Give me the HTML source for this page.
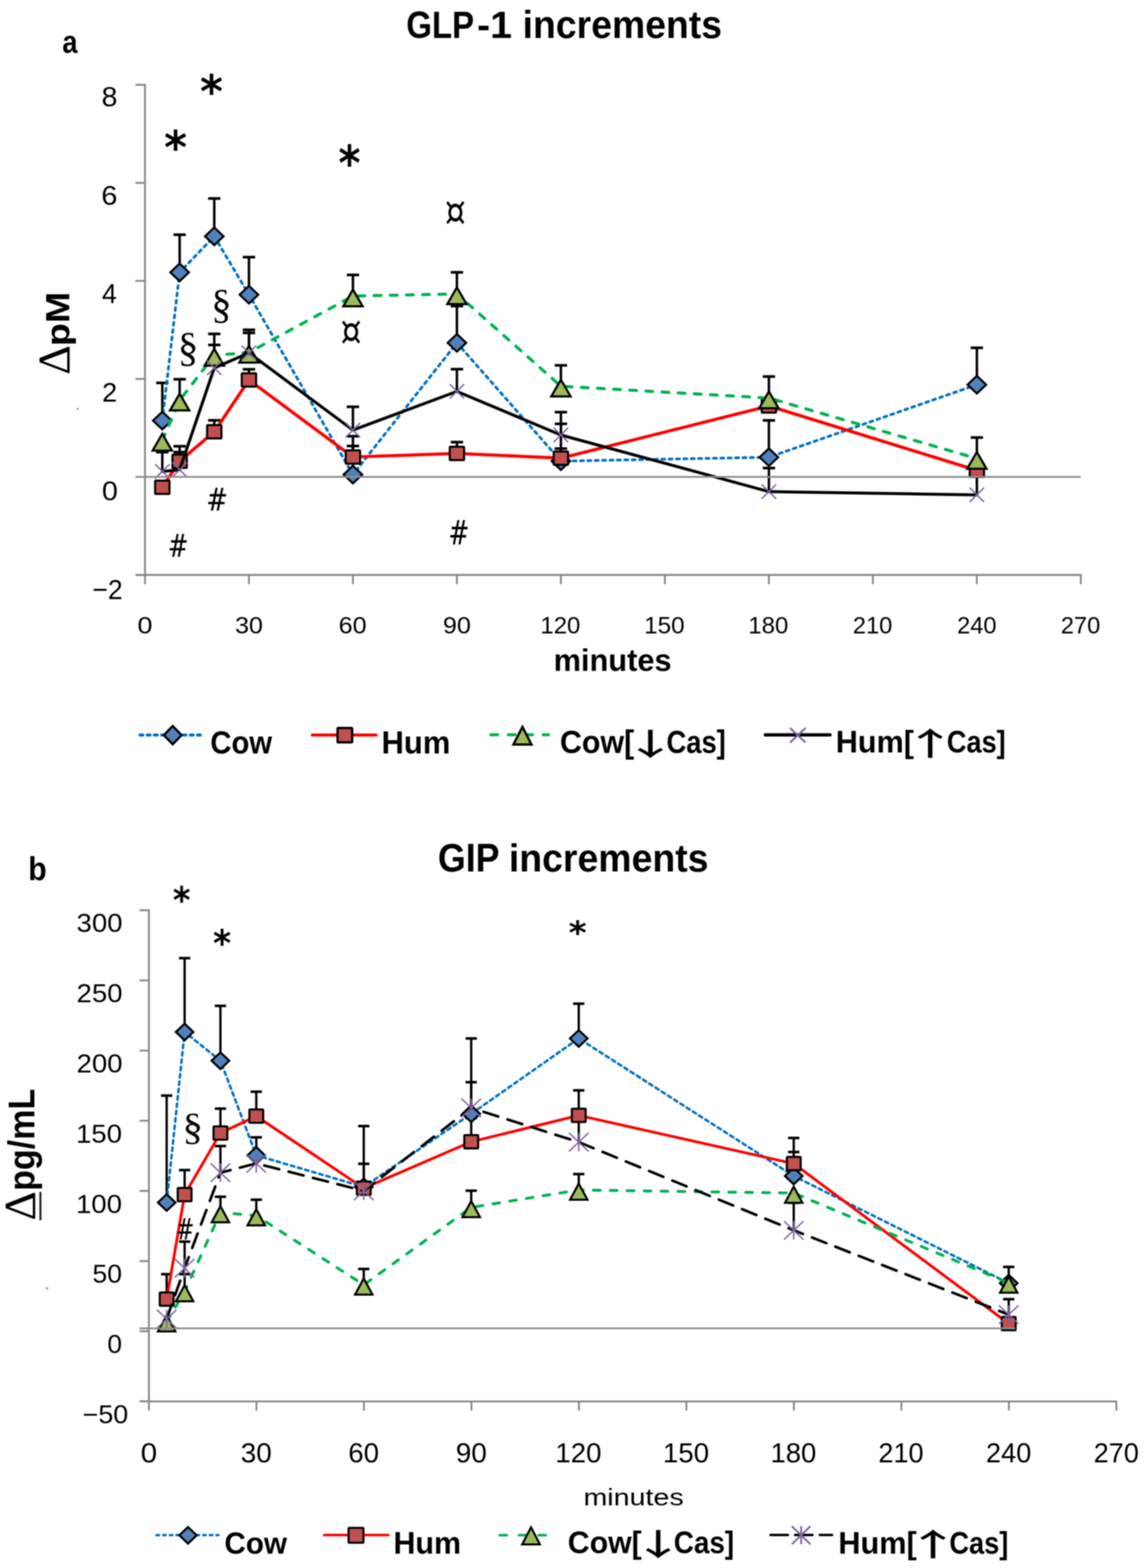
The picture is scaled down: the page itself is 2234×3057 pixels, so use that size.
<!DOCTYPE html><html><head><meta charset="utf-8"><title>GLP-1 and GIP increments</title><style>html,body{margin:0;padding:0;background:#fff;overflow:hidden}svg{display:block}#w{filter:blur(1px)}</style></head><body>
<div id="w">
<svg width="2234" height="3057" viewBox="0 0 2234 3057">
<rect width="2234" height="3057" fill="#fff"/>
<line x1="282.6" y1="163.6" x2="282.6" y2="1139.0" stroke="#868686" stroke-width="3.6" />
<line x1="264.0" y1="165.4" x2="282.6" y2="165.4" stroke="#868686" stroke-width="3.6" />
<line x1="264.0" y1="356.5" x2="282.6" y2="356.5" stroke="#868686" stroke-width="3.6" />
<line x1="264.0" y1="547.6" x2="282.6" y2="547.6" stroke="#868686" stroke-width="3.6" />
<line x1="264.0" y1="738.7" x2="282.6" y2="738.7" stroke="#868686" stroke-width="3.6" />
<line x1="264.0" y1="1120.9" x2="282.6" y2="1120.9" stroke="#868686" stroke-width="3.6" />
<line x1="264.0" y1="1120.9" x2="2108.6" y2="1120.9" stroke="#868686" stroke-width="3.6" />
<line x1="485.3" y1="1120.9" x2="485.3" y2="1139.0" stroke="#868686" stroke-width="3.6" />
<line x1="688.0" y1="1120.9" x2="688.0" y2="1139.0" stroke="#868686" stroke-width="3.6" />
<line x1="890.7" y1="1120.9" x2="890.7" y2="1139.0" stroke="#868686" stroke-width="3.6" />
<line x1="1093.4" y1="1120.9" x2="1093.4" y2="1139.0" stroke="#868686" stroke-width="3.6" />
<line x1="1296.1" y1="1120.9" x2="1296.1" y2="1139.0" stroke="#868686" stroke-width="3.6" />
<line x1="1498.8" y1="1120.9" x2="1498.8" y2="1139.0" stroke="#868686" stroke-width="3.6" />
<line x1="1701.5" y1="1120.9" x2="1701.5" y2="1139.0" stroke="#868686" stroke-width="3.6" />
<line x1="1904.2" y1="1120.9" x2="1904.2" y2="1139.0" stroke="#868686" stroke-width="3.6" />
<line x1="2106.9" y1="1120.9" x2="2106.9" y2="1139.0" stroke="#868686" stroke-width="3.6" />
<line x1="316.4" y1="820.0" x2="316.4" y2="746.5" stroke="#000" stroke-width="4.8" />
<line x1="304.4" y1="746.5" x2="328.4" y2="746.5" stroke="#000" stroke-width="5.2" />
<line x1="350.2" y1="531.0" x2="350.2" y2="457.6" stroke="#000" stroke-width="4.8" />
<line x1="338.2" y1="457.6" x2="362.2" y2="457.6" stroke="#000" stroke-width="5.2" />
<line x1="417.7" y1="460.7" x2="417.7" y2="387.0" stroke="#000" stroke-width="4.8" />
<line x1="405.7" y1="387.0" x2="429.7" y2="387.0" stroke="#000" stroke-width="5.2" />
<line x1="485.3" y1="574.6" x2="485.3" y2="501.3" stroke="#000" stroke-width="4.8" />
<line x1="473.3" y1="501.3" x2="497.3" y2="501.3" stroke="#000" stroke-width="5.2" />
<line x1="688.0" y1="925.3" x2="688.0" y2="850.4" stroke="#000" stroke-width="4.8" />
<line x1="676.0" y1="850.4" x2="700.0" y2="850.4" stroke="#000" stroke-width="5.2" />
<line x1="890.7" y1="668.4" x2="890.7" y2="596.7" stroke="#000" stroke-width="4.8" />
<line x1="878.7" y1="596.7" x2="902.7" y2="596.7" stroke="#000" stroke-width="5.2" />
<line x1="1093.4" y1="899.0" x2="1093.4" y2="826.3" stroke="#000" stroke-width="4.8" />
<line x1="1081.4" y1="826.3" x2="1105.4" y2="826.3" stroke="#000" stroke-width="5.2" />
<line x1="1498.9" y1="891.4" x2="1498.9" y2="819.6" stroke="#000" stroke-width="4.8" />
<line x1="1486.9" y1="819.6" x2="1510.9" y2="819.6" stroke="#000" stroke-width="5.2" />
<line x1="1904.3" y1="750.0" x2="1904.3" y2="678.1" stroke="#000" stroke-width="4.8" />
<line x1="1892.3" y1="678.1" x2="1916.3" y2="678.1" stroke="#000" stroke-width="5.2" />
<line x1="350.2" y1="899.2" x2="350.2" y2="870.0" stroke="#000" stroke-width="4.8" />
<line x1="338.2" y1="870.0" x2="362.2" y2="870.0" stroke="#000" stroke-width="5.2" />
<line x1="417.7" y1="841.7" x2="417.7" y2="819.5" stroke="#000" stroke-width="4.8" />
<line x1="405.7" y1="819.5" x2="429.7" y2="819.5" stroke="#000" stroke-width="5.2" />
<line x1="485.3" y1="740.8" x2="485.3" y2="720.0" stroke="#000" stroke-width="4.8" />
<line x1="473.3" y1="720.0" x2="497.3" y2="720.0" stroke="#000" stroke-width="5.2" />
<line x1="688.0" y1="891.0" x2="688.0" y2="869.5" stroke="#000" stroke-width="4.8" />
<line x1="676.0" y1="869.5" x2="700.0" y2="869.5" stroke="#000" stroke-width="5.2" />
<line x1="890.7" y1="884.0" x2="890.7" y2="862.0" stroke="#000" stroke-width="4.8" />
<line x1="878.7" y1="862.0" x2="902.7" y2="862.0" stroke="#000" stroke-width="5.2" />
<line x1="1093.4" y1="893.2" x2="1093.4" y2="874.6" stroke="#000" stroke-width="4.8" />
<line x1="1081.4" y1="874.6" x2="1105.4" y2="874.6" stroke="#000" stroke-width="5.2" />
<line x1="350.2" y1="780.3" x2="350.2" y2="739.4" stroke="#000" stroke-width="4.8" />
<line x1="338.2" y1="739.4" x2="362.2" y2="739.4" stroke="#000" stroke-width="5.2" />
<line x1="417.7" y1="693.0" x2="417.7" y2="651.0" stroke="#000" stroke-width="4.8" />
<line x1="405.7" y1="651.0" x2="429.7" y2="651.0" stroke="#000" stroke-width="5.2" />
<line x1="485.3" y1="687.1" x2="485.3" y2="643.0" stroke="#000" stroke-width="4.8" />
<line x1="473.3" y1="643.0" x2="497.3" y2="643.0" stroke="#000" stroke-width="5.2" />
<line x1="688.0" y1="577.2" x2="688.0" y2="536.0" stroke="#000" stroke-width="4.8" />
<line x1="676.0" y1="536.0" x2="700.0" y2="536.0" stroke="#000" stroke-width="5.2" />
<line x1="890.7" y1="573.0" x2="890.7" y2="530.9" stroke="#000" stroke-width="4.8" />
<line x1="878.7" y1="530.9" x2="902.7" y2="530.9" stroke="#000" stroke-width="5.2" />
<line x1="1093.4" y1="753.0" x2="1093.4" y2="712.3" stroke="#000" stroke-width="4.8" />
<line x1="1081.4" y1="712.3" x2="1105.4" y2="712.3" stroke="#000" stroke-width="5.2" />
<line x1="1498.9" y1="776.0" x2="1498.9" y2="734.1" stroke="#000" stroke-width="4.8" />
<line x1="1486.9" y1="734.1" x2="1510.9" y2="734.1" stroke="#000" stroke-width="5.2" />
<line x1="1904.3" y1="894.0" x2="1904.3" y2="853.0" stroke="#000" stroke-width="4.8" />
<line x1="1892.3" y1="853.0" x2="1916.3" y2="853.0" stroke="#000" stroke-width="5.2" />
<line x1="316.4" y1="919.1" x2="316.4" y2="881.5" stroke="#000" stroke-width="4.8" />
<line x1="304.4" y1="881.5" x2="328.4" y2="881.5" stroke="#000" stroke-width="5.2" />
<line x1="350.2" y1="915.8" x2="350.2" y2="881.5" stroke="#000" stroke-width="4.8" />
<line x1="338.2" y1="881.5" x2="362.2" y2="881.5" stroke="#000" stroke-width="5.2" />
<line x1="417.7" y1="717.3" x2="417.7" y2="672.5" stroke="#000" stroke-width="4.8" />
<line x1="405.7" y1="672.5" x2="429.7" y2="672.5" stroke="#000" stroke-width="5.2" />
<line x1="485.3" y1="688.0" x2="485.3" y2="649.0" stroke="#000" stroke-width="4.8" />
<line x1="473.3" y1="649.0" x2="497.3" y2="649.0" stroke="#000" stroke-width="5.2" />
<line x1="688.0" y1="838.5" x2="688.0" y2="793.1" stroke="#000" stroke-width="4.8" />
<line x1="676.0" y1="793.1" x2="700.0" y2="793.1" stroke="#000" stroke-width="5.2" />
<line x1="890.7" y1="763.1" x2="890.7" y2="719.7" stroke="#000" stroke-width="4.8" />
<line x1="878.7" y1="719.7" x2="902.7" y2="719.7" stroke="#000" stroke-width="5.2" />
<line x1="1093.4" y1="848.1" x2="1093.4" y2="803.5" stroke="#000" stroke-width="4.8" />
<line x1="1081.4" y1="803.5" x2="1105.4" y2="803.5" stroke="#000" stroke-width="5.2" />
<line x1="1498.9" y1="958.5" x2="1498.9" y2="912.5" stroke="#000" stroke-width="4.8" />
<line x1="1486.9" y1="912.5" x2="1510.9" y2="912.5" stroke="#000" stroke-width="5.2" />
<line x1="1904.3" y1="964.8" x2="1904.3" y2="917.0" stroke="#000" stroke-width="4.8" />
<line x1="1892.3" y1="917.0" x2="1916.3" y2="917.0" stroke="#000" stroke-width="5.2" />
<polyline points="316.4,820.0 350.2,531.0 417.7,460.7 485.3,574.6 688.0,925.3 890.7,668.4 1093.4,899.0 1498.9,891.4 1904.3,750.0" fill="none" stroke="#0070C0" stroke-width="5.3" stroke-linecap="round" stroke-linejoin="round" stroke-dasharray="5.8 8.6"/>
<path d="M316.4 802.8L334.6 820.0L316.4 837.2L298.2 820.0Z" fill="#4F81BD" stroke="#000" stroke-width="4" stroke-linejoin="miter"/>
<path d="M350.2 513.8L368.3 531.0L350.2 548.2L332.0 531.0Z" fill="#4F81BD" stroke="#000" stroke-width="4" stroke-linejoin="miter"/>
<path d="M417.7 443.5L435.9 460.7L417.7 477.9L399.6 460.7Z" fill="#4F81BD" stroke="#000" stroke-width="4" stroke-linejoin="miter"/>
<path d="M485.3 557.4L503.5 574.6L485.3 591.8L467.1 574.6Z" fill="#4F81BD" stroke="#000" stroke-width="4" stroke-linejoin="miter"/>
<path d="M688.0 908.1L706.2 925.3L688.0 942.5L669.8 925.3Z" fill="#4F81BD" stroke="#000" stroke-width="4" stroke-linejoin="miter"/>
<path d="M890.7 651.2L908.9 668.4L890.7 685.6L872.6 668.4Z" fill="#4F81BD" stroke="#000" stroke-width="4" stroke-linejoin="miter"/>
<path d="M1093.4 881.8L1111.6 899.0L1093.4 916.2L1075.3 899.0Z" fill="#4F81BD" stroke="#000" stroke-width="4" stroke-linejoin="miter"/>
<path d="M1498.9 874.2L1517.0 891.4L1498.9 908.6L1480.7 891.4Z" fill="#4F81BD" stroke="#000" stroke-width="4" stroke-linejoin="miter"/>
<path d="M1904.3 732.8L1922.5 750.0L1904.3 767.2L1886.1 750.0Z" fill="#4F81BD" stroke="#000" stroke-width="4" stroke-linejoin="miter"/>
<polyline points="316.4,950.0 350.2,899.2 417.7,841.7 485.3,740.8 688.0,891.0 890.7,884.0 1093.4,893.2 1498.9,791.5 1904.3,917.0" fill="none" stroke="#FF0000" stroke-width="6.2" stroke-linecap="round" stroke-linejoin="round"/>
<rect x="302.4" y="937.0" width="28.0" height="26.0" rx="1.5" fill="#C0504D" stroke="#000" stroke-width="4"/>
<rect x="336.2" y="886.2" width="28.0" height="26.0" rx="1.5" fill="#C0504D" stroke="#000" stroke-width="4"/>
<rect x="403.7" y="828.7" width="28.0" height="26.0" rx="1.5" fill="#C0504D" stroke="#000" stroke-width="4"/>
<rect x="471.3" y="727.8" width="28.0" height="26.0" rx="1.5" fill="#C0504D" stroke="#000" stroke-width="4"/>
<rect x="674.0" y="878.0" width="28.0" height="26.0" rx="1.5" fill="#C0504D" stroke="#000" stroke-width="4"/>
<rect x="876.7" y="871.0" width="28.0" height="26.0" rx="1.5" fill="#C0504D" stroke="#000" stroke-width="4"/>
<rect x="1079.4" y="880.2" width="28.0" height="26.0" rx="1.5" fill="#C0504D" stroke="#000" stroke-width="4"/>
<rect x="1484.9" y="778.5" width="28.0" height="26.0" rx="1.5" fill="#C0504D" stroke="#000" stroke-width="4"/>
<rect x="1890.3" y="904.0" width="28.0" height="26.0" rx="1.5" fill="#C0504D" stroke="#000" stroke-width="4"/>
<polyline points="316.4,858.6 350.2,780.3 417.7,693.0 485.3,687.1 688.0,577.2 890.7,573.0 1093.4,753.0 1498.9,776.0 1904.3,894.0" fill="none" stroke="#00B050" stroke-width="6" stroke-linecap="round" stroke-linejoin="round" stroke-dasharray="13 18.5"/>
<path d="M316.4 845.8L335.2 878.5L297.5 878.5Z" fill="#9BBB59" stroke="#000" stroke-width="4.2" stroke-linejoin="miter"/>
<path d="M350.2 767.5L369.0 800.2L331.3 800.2Z" fill="#9BBB59" stroke="#000" stroke-width="4.2" stroke-linejoin="miter"/>
<path d="M417.7 680.2L436.6 712.9L398.9 712.9Z" fill="#9BBB59" stroke="#000" stroke-width="4.2" stroke-linejoin="miter"/>
<path d="M485.3 674.3L504.2 707.0L466.5 707.0Z" fill="#9BBB59" stroke="#000" stroke-width="4.2" stroke-linejoin="miter"/>
<path d="M688.0 564.4L706.9 597.1L669.2 597.1Z" fill="#9BBB59" stroke="#000" stroke-width="4.2" stroke-linejoin="miter"/>
<path d="M890.7 560.2L909.6 592.9L871.9 592.9Z" fill="#9BBB59" stroke="#000" stroke-width="4.2" stroke-linejoin="miter"/>
<path d="M1093.4 740.2L1112.3 772.9L1074.6 772.9Z" fill="#9BBB59" stroke="#000" stroke-width="4.2" stroke-linejoin="miter"/>
<path d="M1498.9 763.2L1517.7 795.9L1480.0 795.9Z" fill="#9BBB59" stroke="#000" stroke-width="4.2" stroke-linejoin="miter"/>
<path d="M1904.3 881.2L1923.1 913.9L1885.4 913.9Z" fill="#9BBB59" stroke="#000" stroke-width="4.2" stroke-linejoin="miter"/>
<polyline points="316.4,919.1 350.2,915.8 417.7,717.3 485.3,688.0 688.0,838.5 890.7,763.1 1093.4,848.1 1498.9,958.5 1904.3,964.8" fill="none" stroke="#000" stroke-width="5.8" stroke-linecap="round" stroke-linejoin="round"/>
<path d="M302.4 905.1L330.4 933.1M330.4 905.1L302.4 933.1" fill="none" stroke="#8064A2" stroke-width="2.8" stroke-linecap="butt"/>
<path d="M336.2 901.8L364.2 929.8M364.2 901.8L336.2 929.8" fill="none" stroke="#8064A2" stroke-width="2.8" stroke-linecap="butt"/>
<path d="M403.7 703.3L431.8 731.3M431.8 703.3L403.7 731.3" fill="none" stroke="#8064A2" stroke-width="2.8" stroke-linecap="butt"/>
<path d="M471.3 674.0L499.3 702.0M499.3 674.0L471.3 702.0" fill="none" stroke="#8064A2" stroke-width="2.8" stroke-linecap="butt"/>
<path d="M674.0 824.5L702.0 852.5M702.0 824.5L674.0 852.5" fill="none" stroke="#8064A2" stroke-width="2.8" stroke-linecap="butt"/>
<path d="M876.7 749.1L904.8 777.1M904.8 749.1L876.7 777.1" fill="none" stroke="#8064A2" stroke-width="2.8" stroke-linecap="butt"/>
<path d="M1079.4 834.1L1107.5 862.1M1107.5 834.1L1079.4 862.1" fill="none" stroke="#8064A2" stroke-width="2.8" stroke-linecap="butt"/>
<path d="M1484.8 944.5L1512.9 972.5M1512.9 944.5L1484.8 972.5" fill="none" stroke="#8064A2" stroke-width="2.8" stroke-linecap="butt"/>
<path d="M1890.3 950.8L1918.3 978.8M1918.3 950.8L1890.3 978.8" fill="none" stroke="#8064A2" stroke-width="2.8" stroke-linecap="butt"/>
<line x1="264.0" y1="929.8" x2="2106.8" y2="929.8" stroke="#8c8c8c" stroke-width="3.6" />
<polyline points="273.0,1433.0 397.0,1433.0" fill="none" stroke="#0070C0" stroke-width="5.8" stroke-linecap="round" stroke-linejoin="round" stroke-dasharray="5.5 8.5"/>
<path d="M336.7 1415.5L354.0 1433.3L336.7 1451.1L319.4 1433.3Z" fill="#4F81BD" stroke="#000" stroke-width="4.5" stroke-linejoin="miter"/>
<polyline points="609.0,1433.0 733.0,1433.0" fill="none" stroke="#FF0000" stroke-width="6.2" stroke-linecap="round" stroke-linejoin="round"/>
<rect x="658.0" y="1419.2" width="28.5" height="28.0" rx="1.5" fill="#C0504D" stroke="#000" stroke-width="4.5"/>
<polyline points="957.0,1432.5 1069.0,1432.5" fill="none" stroke="#00B050" stroke-width="6" stroke-linecap="round" stroke-linejoin="round" stroke-dasharray="13 21"/>
<path d="M1018.5 1417.2L1036.1 1451.5L1000.9 1451.5Z" fill="#9BBB59" stroke="#000" stroke-width="4.5" stroke-linejoin="miter"/>
<polyline points="1492.0,1432.8 1618.0,1432.8" fill="none" stroke="#000" stroke-width="6.5" stroke-linecap="round" stroke-linejoin="round"/>
<path d="M1540.1 1419.4L1570.3 1447.6M1570.3 1419.4L1540.1 1447.6" fill="none" stroke="#8064A2" stroke-width="4" stroke-linecap="butt"/>
<text x="792.0" y="74.4" font-family='"Liberation Sans", Arial, sans-serif' font-size="74.90" font-weight="bold" text-anchor="start" textLength="132.3" lengthAdjust="spacingAndGlyphs">GLP</text>
<text x="930.0" y="74.0" font-family='"Liberation Sans", Arial, sans-serif' font-size="74.95" font-weight="bold" text-anchor="start" textLength="68.1" lengthAdjust="spacingAndGlyphs">-1</text>
<text x="1018.8" y="74.4" font-family='"Liberation Sans", Arial, sans-serif' font-size="75.64" font-weight="bold" text-anchor="start" textLength="388.7" lengthAdjust="spacingAndGlyphs">increments</text>
<text x="121.6" y="102.6" font-family='"Liberation Sans", Arial, sans-serif' font-size="63.03" font-weight="bold" text-anchor="start" textLength="29.6" lengthAdjust="spacingAndGlyphs">a</text>
<text x="228.8" y="207.4" font-family='"Liberation Sans", Arial, sans-serif' font-size="54.42" text-anchor="end" textLength="30.9" lengthAdjust="spacingAndGlyphs">8</text>
<text x="228.8" y="399.0" font-family='"Liberation Sans", Arial, sans-serif' font-size="51.64" text-anchor="end" textLength="31.4" lengthAdjust="spacingAndGlyphs">6</text>
<text x="227.8" y="591.2" font-family='"Liberation Sans", Arial, sans-serif' font-size="54.45" text-anchor="end" textLength="29.1" lengthAdjust="spacingAndGlyphs">4</text>
<text x="228.6" y="783.4" font-family='"Liberation Sans", Arial, sans-serif' font-size="51.66" text-anchor="end" textLength="29.5" lengthAdjust="spacingAndGlyphs">2</text>
<text x="229.8" y="974.6" font-family='"Liberation Sans", Arial, sans-serif' font-size="51.66" text-anchor="end" textLength="31.0" lengthAdjust="spacingAndGlyphs">0</text>
<text x="239.2" y="1167.8" font-family='"Liberation Sans", Arial, sans-serif' font-size="54.41" text-anchor="end" textLength="59.2" lengthAdjust="spacingAndGlyphs">−2</text>
<text x="282.6" y="1235.2" font-family='"Liberation Sans", Arial, sans-serif' font-size="46.87" text-anchor="middle" textLength="29.2" lengthAdjust="spacingAndGlyphs">0</text>
<text x="485.3" y="1235.2" font-family='"Liberation Sans", Arial, sans-serif' font-size="46.87" text-anchor="middle" textLength="54.3" lengthAdjust="spacingAndGlyphs">30</text>
<text x="687.5" y="1235.2" font-family='"Liberation Sans", Arial, sans-serif' font-size="46.87" text-anchor="middle" textLength="54.3" lengthAdjust="spacingAndGlyphs">60</text>
<text x="890.7" y="1235.2" font-family='"Liberation Sans", Arial, sans-serif' font-size="46.87" text-anchor="middle" textLength="54.3" lengthAdjust="spacingAndGlyphs">90</text>
<text x="1092.4" y="1235.2" font-family='"Liberation Sans", Arial, sans-serif' font-size="46.87" text-anchor="middle" textLength="77.9" lengthAdjust="spacingAndGlyphs">120</text>
<text x="1295.1" y="1235.2" font-family='"Liberation Sans", Arial, sans-serif' font-size="46.87" text-anchor="middle" textLength="78.9" lengthAdjust="spacingAndGlyphs">150</text>
<text x="1497.8" y="1235.2" font-family='"Liberation Sans", Arial, sans-serif' font-size="46.87" text-anchor="middle" textLength="77.9" lengthAdjust="spacingAndGlyphs">180</text>
<text x="1701.0" y="1235.2" font-family='"Liberation Sans", Arial, sans-serif' font-size="46.87" text-anchor="middle" textLength="76.9" lengthAdjust="spacingAndGlyphs">210</text>
<text x="1904.2" y="1235.2" font-family='"Liberation Sans", Arial, sans-serif' font-size="46.87" text-anchor="middle" textLength="76.9" lengthAdjust="spacingAndGlyphs">240</text>
<text x="2106.4" y="1235.2" font-family='"Liberation Sans", Arial, sans-serif' font-size="46.87" text-anchor="middle" textLength="76.9" lengthAdjust="spacingAndGlyphs">270</text>
<text x="1079.2" y="1308.2" font-family='"Liberation Sans", Arial, sans-serif' font-size="60.63" font-weight="bold" text-anchor="start" textLength="230.0" lengthAdjust="spacingAndGlyphs">minutes</text>
<text x="135.2" y="730.8" font-family='"Liberation Serif", "Times New Roman", serif' font-size="89.07" text-anchor="start" textLength="57.9" lengthAdjust="spacingAndGlyphs" transform="rotate(-90 135.2 730.8)">Δ</text>
<text x="134.7" y="674.8" font-family='"Liberation Sans", Arial, sans-serif' font-size="65.64" font-weight="bold" text-anchor="start" textLength="105.9" lengthAdjust="spacingAndGlyphs" transform="rotate(-90 134.7 674.8)">pM</text>
<text x="410.0" y="1469.0" font-family='"Liberation Sans", Arial, sans-serif' font-size="62.67" font-weight="bold" text-anchor="start" textLength="120.5" lengthAdjust="spacingAndGlyphs">Cow</text>
<text x="743.8" y="1469.0" font-family='"Liberation Sans", Arial, sans-serif' font-size="62.64" font-weight="bold" text-anchor="start" textLength="134.1" lengthAdjust="spacingAndGlyphs">Hum</text>
<text x="1091.4" y="1468.0" font-family='"Liberation Sans", Arial, sans-serif' font-size="62.04" font-weight="bold" text-anchor="start" textLength="145.0" lengthAdjust="spacingAndGlyphs">Cow[</text>
<text transform="translate(1215.2 1473.1) scale(1.757 1)" font-family='"Noto Sans CJK JP", sans-serif' font-size="59.89" font-weight="500">↓</text>
<text x="1299.2" y="1468.0" font-family='"Liberation Sans", Arial, sans-serif' font-size="62.04" font-weight="bold" text-anchor="start" textLength="115.7" lengthAdjust="spacingAndGlyphs">Cas]</text>
<text x="1629.2" y="1467.1" font-family='"Liberation Sans", Arial, sans-serif' font-size="61.49" font-weight="bold" text-anchor="start" textLength="152.3" lengthAdjust="spacingAndGlyphs">Hum[</text>
<text transform="translate(1761.5 1472.8) scale(1.668 1)" font-family='"Noto Sans CJK JP", sans-serif' font-size="62.17" font-weight="500">↑</text>
<text x="1845.8" y="1467.1" font-family='"Liberation Sans", Arial, sans-serif' font-size="61.49" font-weight="bold" text-anchor="start" textLength="114.7" lengthAdjust="spacingAndGlyphs">Cas]</text>
<text x="320.0" y="319.2" font-family='"DejaVu Sans", sans-serif' font-size="88.95" font-weight="bold" text-anchor="start" textLength="44.5" lengthAdjust="spacingAndGlyphs">*</text>
<text x="390.0" y="210.2" font-family='"DejaVu Sans", sans-serif' font-size="88.95" font-weight="bold" text-anchor="start" textLength="44.5" lengthAdjust="spacingAndGlyphs">*</text>
<text x="659.8" y="351.3" font-family='"DejaVu Sans", sans-serif' font-size="94.32" font-weight="bold" text-anchor="start" textLength="43.0" lengthAdjust="spacingAndGlyphs">*</text>
<text x="346.4" y="703.8" font-family='"Liberation Serif", "Times New Roman", serif' font-size="79.38" text-anchor="start" textLength="40.3" lengthAdjust="spacingAndGlyphs">§</text>
<text x="411.8" y="620.2" font-family='"Liberation Serif", "Times New Roman", serif' font-size="79.42" text-anchor="start" textLength="39.7" lengthAdjust="spacingAndGlyphs">§</text>
<text x="663.4" y="674.0" font-family='"DejaVu Serif", serif' font-size="83.70" text-anchor="start" textLength="41.8" lengthAdjust="spacingAndGlyphs">¤</text>
<text x="866.8" y="441.1" font-family='"DejaVu Serif", serif' font-size="84.68" text-anchor="start" textLength="41.7" lengthAdjust="spacingAndGlyphs">¤</text>
<text x="402.0" y="995.5" font-family='"DejaVu Serif", serif' font-size="61.92" text-anchor="start" textLength="42.6" lengthAdjust="spacingAndGlyphs">#</text>
<text x="327.0" y="1086.3" font-family='"DejaVu Serif", serif' font-size="61.92" text-anchor="start" textLength="40.7" lengthAdjust="spacingAndGlyphs">#</text>
<text x="874.0" y="1061.4" font-family='"DejaVu Serif", serif' font-size="64.67" text-anchor="start" textLength="41.2" lengthAdjust="spacingAndGlyphs">#</text>
<line x1="290.3" y1="1772.8" x2="290.3" y2="2750.0" stroke="#868686" stroke-width="3.6" />
<line x1="272.0" y1="2732.2" x2="290.3" y2="2732.2" stroke="#868686" stroke-width="3.6" />
<line x1="272.0" y1="2595.4" x2="290.3" y2="2595.4" stroke="#868686" stroke-width="3.6" />
<line x1="272.0" y1="2458.6" x2="290.3" y2="2458.6" stroke="#868686" stroke-width="3.6" />
<line x1="272.0" y1="2321.8" x2="290.3" y2="2321.8" stroke="#868686" stroke-width="3.6" />
<line x1="272.0" y1="2185.0" x2="290.3" y2="2185.0" stroke="#868686" stroke-width="3.6" />
<line x1="272.0" y1="2048.2" x2="290.3" y2="2048.2" stroke="#868686" stroke-width="3.6" />
<line x1="272.0" y1="1911.4" x2="290.3" y2="1911.4" stroke="#868686" stroke-width="3.6" />
<line x1="272.0" y1="1774.6" x2="290.3" y2="1774.6" stroke="#868686" stroke-width="3.6" />
<line x1="272.0" y1="2732.2" x2="2177.8" y2="2732.2" stroke="#868686" stroke-width="3.6" />
<line x1="499.9" y1="2732.2" x2="499.9" y2="2750.0" stroke="#868686" stroke-width="3.6" />
<line x1="709.4" y1="2732.2" x2="709.4" y2="2750.0" stroke="#868686" stroke-width="3.6" />
<line x1="919.0" y1="2732.2" x2="919.0" y2="2750.0" stroke="#868686" stroke-width="3.6" />
<line x1="1128.5" y1="2732.2" x2="1128.5" y2="2750.0" stroke="#868686" stroke-width="3.6" />
<line x1="1338.0" y1="2732.2" x2="1338.0" y2="2750.0" stroke="#868686" stroke-width="3.6" />
<line x1="1547.6" y1="2732.2" x2="1547.6" y2="2750.0" stroke="#868686" stroke-width="3.6" />
<line x1="1757.2" y1="2732.2" x2="1757.2" y2="2750.0" stroke="#868686" stroke-width="3.6" />
<line x1="1966.7" y1="2732.2" x2="1966.7" y2="2750.0" stroke="#868686" stroke-width="3.6" />
<line x1="2176.2" y1="2732.2" x2="2176.2" y2="2750.0" stroke="#868686" stroke-width="3.6" />
<line x1="324.9" y1="2344.4" x2="324.9" y2="2136.0" stroke="#000" stroke-width="4.5" />
<line x1="313.9" y1="2136.0" x2="335.9" y2="2136.0" stroke="#000" stroke-width="5" />
<line x1="359.9" y1="2012.0" x2="359.9" y2="1868.0" stroke="#000" stroke-width="4.5" />
<line x1="348.9" y1="1868.0" x2="370.9" y2="1868.0" stroke="#000" stroke-width="5" />
<line x1="429.7" y1="2068.0" x2="429.7" y2="1961.0" stroke="#000" stroke-width="4.5" />
<line x1="418.7" y1="1961.0" x2="440.7" y2="1961.0" stroke="#000" stroke-width="5" />
<line x1="499.6" y1="2252.5" x2="499.6" y2="2217.4" stroke="#000" stroke-width="4.5" />
<line x1="488.6" y1="2217.4" x2="510.6" y2="2217.4" stroke="#000" stroke-width="5" />
<line x1="709.1" y1="2314.0" x2="709.1" y2="2195.4" stroke="#000" stroke-width="4.5" />
<line x1="698.1" y1="2195.4" x2="720.1" y2="2195.4" stroke="#000" stroke-width="5" />
<line x1="918.6" y1="2171.5" x2="918.6" y2="2024.6" stroke="#000" stroke-width="4.5" />
<line x1="907.6" y1="2024.6" x2="929.6" y2="2024.6" stroke="#000" stroke-width="5" />
<line x1="1128.2" y1="2024.6" x2="1128.2" y2="1956.8" stroke="#000" stroke-width="4.5" />
<line x1="1117.2" y1="1956.8" x2="1139.2" y2="1956.8" stroke="#000" stroke-width="5" />
<line x1="1547.3" y1="2292.8" x2="1547.3" y2="2246.0" stroke="#000" stroke-width="4.5" />
<line x1="1536.3" y1="2246.0" x2="1558.3" y2="2246.0" stroke="#000" stroke-width="5" />
<line x1="324.9" y1="2532.8" x2="324.9" y2="2484.2" stroke="#000" stroke-width="4.5" />
<line x1="313.9" y1="2484.2" x2="335.9" y2="2484.2" stroke="#000" stroke-width="5" />
<line x1="359.9" y1="2329.0" x2="359.9" y2="2281.2" stroke="#000" stroke-width="4.5" />
<line x1="348.9" y1="2281.2" x2="370.9" y2="2281.2" stroke="#000" stroke-width="5" />
<line x1="429.7" y1="2209.0" x2="429.7" y2="2161.4" stroke="#000" stroke-width="4.5" />
<line x1="418.7" y1="2161.4" x2="440.7" y2="2161.4" stroke="#000" stroke-width="5" />
<line x1="499.6" y1="2176.0" x2="499.6" y2="2128.4" stroke="#000" stroke-width="4.5" />
<line x1="488.6" y1="2128.4" x2="510.6" y2="2128.4" stroke="#000" stroke-width="5" />
<line x1="918.6" y1="2226.0" x2="918.6" y2="2180.0" stroke="#000" stroke-width="4.5" />
<line x1="907.6" y1="2180.0" x2="929.6" y2="2180.0" stroke="#000" stroke-width="5" />
<line x1="1128.2" y1="2174.6" x2="1128.2" y2="2125.8" stroke="#000" stroke-width="4.5" />
<line x1="1117.2" y1="2125.8" x2="1139.2" y2="2125.8" stroke="#000" stroke-width="5" />
<line x1="1547.3" y1="2268.6" x2="1547.3" y2="2218.6" stroke="#000" stroke-width="4.5" />
<line x1="1536.3" y1="2218.6" x2="1558.3" y2="2218.6" stroke="#000" stroke-width="5" />
<line x1="359.9" y1="2518.0" x2="359.9" y2="2484.0" stroke="#000" stroke-width="4.5" />
<line x1="348.9" y1="2484.0" x2="370.9" y2="2484.0" stroke="#000" stroke-width="5" />
<line x1="429.7" y1="2364.0" x2="429.7" y2="2333.2" stroke="#000" stroke-width="4.5" />
<line x1="418.7" y1="2333.2" x2="440.7" y2="2333.2" stroke="#000" stroke-width="5" />
<line x1="499.6" y1="2370.0" x2="499.6" y2="2339.0" stroke="#000" stroke-width="4.5" />
<line x1="488.6" y1="2339.0" x2="510.6" y2="2339.0" stroke="#000" stroke-width="5" />
<line x1="709.1" y1="2505.0" x2="709.1" y2="2474.0" stroke="#000" stroke-width="4.5" />
<line x1="698.1" y1="2474.0" x2="720.1" y2="2474.0" stroke="#000" stroke-width="5" />
<line x1="918.6" y1="2354.0" x2="918.6" y2="2321.4" stroke="#000" stroke-width="4.5" />
<line x1="907.6" y1="2321.4" x2="929.6" y2="2321.4" stroke="#000" stroke-width="5" />
<line x1="1128.2" y1="2320.0" x2="1128.2" y2="2289.0" stroke="#000" stroke-width="4.5" />
<line x1="1117.2" y1="2289.0" x2="1139.2" y2="2289.0" stroke="#000" stroke-width="5" />
<line x1="1966.4" y1="2501.3" x2="1966.4" y2="2470.0" stroke="#000" stroke-width="4.5" />
<line x1="1955.4" y1="2470.0" x2="1977.4" y2="2470.0" stroke="#000" stroke-width="5" />
<line x1="359.9" y1="2472.4" x2="359.9" y2="2420.7" stroke="#000" stroke-width="4.5" />
<line x1="348.9" y1="2420.7" x2="370.9" y2="2420.7" stroke="#000" stroke-width="5" />
<line x1="429.7" y1="2286.3" x2="429.7" y2="2234.3" stroke="#000" stroke-width="4.5" />
<line x1="418.7" y1="2234.3" x2="440.7" y2="2234.3" stroke="#000" stroke-width="5" />
<line x1="709.1" y1="2321.7" x2="709.1" y2="2269.0" stroke="#000" stroke-width="4.5" />
<line x1="698.1" y1="2269.0" x2="720.1" y2="2269.0" stroke="#000" stroke-width="5" />
<line x1="918.6" y1="2160.0" x2="918.6" y2="2109.9" stroke="#000" stroke-width="4.5" />
<line x1="907.6" y1="2109.9" x2="929.6" y2="2109.9" stroke="#000" stroke-width="5" />
<line x1="1128.2" y1="2226.7" x2="1128.2" y2="2180.0" stroke="#000" stroke-width="4.5" />
<line x1="1117.2" y1="2180.0" x2="1139.2" y2="2180.0" stroke="#000" stroke-width="5" />
<line x1="1547.3" y1="2398.7" x2="1547.3" y2="2345.0" stroke="#000" stroke-width="4.5" />
<line x1="1536.3" y1="2345.0" x2="1558.3" y2="2345.0" stroke="#000" stroke-width="5" />
<line x1="1966.4" y1="2563.0" x2="1966.4" y2="2532.9" stroke="#000" stroke-width="4.5" />
<line x1="1955.4" y1="2532.9" x2="1977.4" y2="2532.9" stroke="#000" stroke-width="5" />
<polyline points="324.9,2344.4 359.9,2012.0 429.7,2068.0 499.6,2252.5 709.1,2314.0 918.6,2171.5 1128.2,2024.6 1547.3,2292.8 1966.4,2501.7" fill="none" stroke="#0070C0" stroke-width="4.8" stroke-linecap="round" stroke-linejoin="round" stroke-dasharray="7 7.4"/>
<path d="M324.9 2328.2L342.1 2344.4L324.9 2360.6L307.8 2344.4Z" fill="#4F81BD" stroke="#000" stroke-width="4" stroke-linejoin="miter"/>
<path d="M359.9 1995.8L377.0 2012.0L359.9 2028.2L342.7 2012.0Z" fill="#4F81BD" stroke="#000" stroke-width="4" stroke-linejoin="miter"/>
<path d="M429.7 2051.8L446.9 2068.0L429.7 2084.2L412.5 2068.0Z" fill="#4F81BD" stroke="#000" stroke-width="4" stroke-linejoin="miter"/>
<path d="M499.6 2236.3L516.7 2252.5L499.6 2268.7L482.4 2252.5Z" fill="#4F81BD" stroke="#000" stroke-width="4" stroke-linejoin="miter"/>
<path d="M709.1 2297.8L726.3 2314.0L709.1 2330.2L691.9 2314.0Z" fill="#4F81BD" stroke="#000" stroke-width="4" stroke-linejoin="miter"/>
<path d="M918.6 2155.3L935.8 2171.5L918.6 2187.7L901.5 2171.5Z" fill="#4F81BD" stroke="#000" stroke-width="4" stroke-linejoin="miter"/>
<path d="M1128.2 2008.4L1145.4 2024.6L1128.2 2040.8L1111.0 2024.6Z" fill="#4F81BD" stroke="#000" stroke-width="4" stroke-linejoin="miter"/>
<path d="M1547.3 2276.6L1564.5 2292.8L1547.3 2309.0L1530.1 2292.8Z" fill="#4F81BD" stroke="#000" stroke-width="4" stroke-linejoin="miter"/>
<path d="M1966.4 2485.5L1983.6 2501.7L1966.4 2517.9L1949.2 2501.7Z" fill="#4F81BD" stroke="#000" stroke-width="4" stroke-linejoin="miter"/>
<polyline points="324.9,2532.8 359.9,2329.0 429.7,2209.0 499.6,2176.0 709.1,2316.6 918.6,2226.0 1128.2,2174.6 1547.3,2268.6 1966.4,2580.5" fill="none" stroke="#FF0000" stroke-width="5.4" stroke-linecap="round" stroke-linejoin="round"/>
<rect x="311.4" y="2519.8" width="27.0" height="26.0" rx="1.5" fill="#C0504D" stroke="#000" stroke-width="4"/>
<rect x="346.4" y="2316.0" width="27.0" height="26.0" rx="1.5" fill="#C0504D" stroke="#000" stroke-width="4"/>
<rect x="416.2" y="2196.0" width="27.0" height="26.0" rx="1.5" fill="#C0504D" stroke="#000" stroke-width="4"/>
<rect x="486.1" y="2163.0" width="27.0" height="26.0" rx="1.5" fill="#C0504D" stroke="#000" stroke-width="4"/>
<rect x="695.6" y="2303.6" width="27.0" height="26.0" rx="1.5" fill="#C0504D" stroke="#000" stroke-width="4"/>
<rect x="905.1" y="2213.0" width="27.0" height="26.0" rx="1.5" fill="#C0504D" stroke="#000" stroke-width="4"/>
<rect x="1114.7" y="2161.6" width="27.0" height="26.0" rx="1.5" fill="#C0504D" stroke="#000" stroke-width="4"/>
<rect x="1533.8" y="2255.6" width="27.0" height="26.0" rx="1.5" fill="#C0504D" stroke="#000" stroke-width="4"/>
<rect x="1952.9" y="2567.5" width="27.0" height="26.0" rx="1.5" fill="#C0504D" stroke="#000" stroke-width="4"/>
<polyline points="324.9,2576.7 359.9,2518.0 429.7,2364.0 499.6,2370.0 709.1,2505.0 918.6,2354.0 1128.2,2320.0 1547.3,2326.0 1966.4,2501.3" fill="none" stroke="#00B050" stroke-width="5.6" stroke-linecap="round" stroke-linejoin="round" stroke-dasharray="13 20"/>
<path d="M324.9 2564.2L341.9 2595.7L307.9 2595.7Z" fill="#9BBB59" stroke="#000" stroke-width="4" stroke-linejoin="miter"/>
<path d="M359.9 2505.5L376.9 2537.0L342.8 2537.0Z" fill="#9BBB59" stroke="#000" stroke-width="4" stroke-linejoin="miter"/>
<path d="M429.7 2351.5L446.7 2383.0L412.7 2383.0Z" fill="#9BBB59" stroke="#000" stroke-width="4" stroke-linejoin="miter"/>
<path d="M499.6 2357.5L516.6 2389.0L482.5 2389.0Z" fill="#9BBB59" stroke="#000" stroke-width="4" stroke-linejoin="miter"/>
<path d="M709.1 2492.5L726.1 2524.0L692.1 2524.0Z" fill="#9BBB59" stroke="#000" stroke-width="4" stroke-linejoin="miter"/>
<path d="M918.6 2341.5L935.7 2373.0L901.6 2373.0Z" fill="#9BBB59" stroke="#000" stroke-width="4" stroke-linejoin="miter"/>
<path d="M1128.2 2307.5L1145.2 2339.0L1111.2 2339.0Z" fill="#9BBB59" stroke="#000" stroke-width="4" stroke-linejoin="miter"/>
<path d="M1547.3 2313.5L1564.3 2345.0L1530.3 2345.0Z" fill="#9BBB59" stroke="#000" stroke-width="4" stroke-linejoin="miter"/>
<path d="M1966.4 2488.8L1983.4 2520.3L1949.4 2520.3Z" fill="#9BBB59" stroke="#000" stroke-width="4" stroke-linejoin="miter"/>
<polyline points="324.9,2571.4 359.9,2472.4 429.7,2286.3 499.6,2268.2 709.1,2321.7 918.6,2160.0 1128.2,2226.7 1547.3,2398.7 1966.4,2563.0" fill="none" stroke="#000" stroke-width="5.2" stroke-linecap="round" stroke-linejoin="round" stroke-dasharray="30 19"/>
<path d="M305.9 2553.4L343.9 2589.4M343.9 2553.4L305.9 2589.4M324.9 2553.4L324.9 2589.4" fill="none" stroke="#8064A2" stroke-width="2.8" stroke-linecap="butt"/>
<path d="M340.8 2454.4L378.9 2490.4M378.9 2454.4L340.8 2490.4M359.9 2454.4L359.9 2490.4" fill="none" stroke="#8064A2" stroke-width="2.8" stroke-linecap="butt"/>
<path d="M410.7 2268.3L448.7 2304.3M448.7 2268.3L410.7 2304.3M429.7 2268.3L429.7 2304.3" fill="none" stroke="#8064A2" stroke-width="2.8" stroke-linecap="butt"/>
<path d="M480.5 2250.2L518.6 2286.2M518.6 2250.2L480.5 2286.2M499.6 2250.2L499.6 2286.2" fill="none" stroke="#8064A2" stroke-width="2.8" stroke-linecap="butt"/>
<path d="M690.1 2303.7L728.1 2339.7M728.1 2303.7L690.1 2339.7M709.1 2303.7L709.1 2339.7" fill="none" stroke="#8064A2" stroke-width="2.8" stroke-linecap="butt"/>
<path d="M899.6 2142.0L937.7 2178.0M937.7 2142.0L899.6 2178.0M918.6 2142.0L918.6 2178.0" fill="none" stroke="#8064A2" stroke-width="2.8" stroke-linecap="butt"/>
<path d="M1109.2 2208.7L1147.2 2244.7M1147.2 2208.7L1109.2 2244.7M1128.2 2208.7L1128.2 2244.7" fill="none" stroke="#8064A2" stroke-width="2.8" stroke-linecap="butt"/>
<path d="M1528.3 2380.7L1566.3 2416.7M1566.3 2380.7L1528.3 2416.7M1547.3 2380.7L1547.3 2416.7" fill="none" stroke="#8064A2" stroke-width="2.8" stroke-linecap="butt"/>
<path d="M1947.4 2545.0L1985.4 2581.0M1985.4 2545.0L1947.4 2581.0M1966.4 2545.0L1966.4 2581.0" fill="none" stroke="#8064A2" stroke-width="2.8" stroke-linecap="butt"/>
<line x1="272.0" y1="2589.8" x2="1979.0" y2="2589.8" stroke="#8c8c8c" stroke-width="3.4" />
<polyline points="305.0,2992.8 426.0,2992.8" fill="none" stroke="#0070C0" stroke-width="4.8" stroke-linecap="round" stroke-linejoin="round" stroke-dasharray="5 8"/>
<path d="M366.5 2977.1L383.4 2993.3L366.5 3009.5L349.6 2993.3Z" fill="#4F81BD" stroke="#000" stroke-width="4" stroke-linejoin="miter"/>
<polyline points="632.0,2992.8 757.0,2992.8" fill="none" stroke="#FF0000" stroke-width="5" stroke-linecap="round" stroke-linejoin="round"/>
<rect x="679.5" y="2978.8" width="29.0" height="29.0" rx="1.5" fill="#C0504D" stroke="#000" stroke-width="4"/>
<polyline points="974.0,2993.0 1086.0,2993.0" fill="none" stroke="#00B050" stroke-width="5" stroke-linecap="round" stroke-linejoin="round" stroke-dasharray="14 24"/>
<path d="M1035.2 2977.6L1052.5 3011.0L1017.9 3011.0Z" fill="#9BBB59" stroke="#000" stroke-width="4" stroke-linejoin="miter"/>
<polyline points="1502.0,2992.7 1622.0,2992.7" fill="none" stroke="#000" stroke-width="4.8" stroke-linecap="round" stroke-linejoin="round" stroke-dasharray="34 14"/>
<path d="M1543.5 2975.4L1579.9 3010.8M1579.9 2975.4L1543.5 3010.8M1561.7 2975.4L1561.7 3010.8" fill="none" stroke="#8064A2" stroke-width="3.6" stroke-linecap="butt"/>
<line x1="78.8" y1="2323.7" x2="78.8" y2="2379.0" stroke="#222" stroke-width="4.0" />
<circle cx="151.5" cy="797.2" r="2.4" fill="#a8a8a8"/>
<circle cx="91.8" cy="2511.8" r="2.6" fill="#a8a8a8"/>
<text x="853.8" y="1699.0" font-family='"Liberation Sans", Arial, sans-serif' font-size="77.01" font-weight="bold" text-anchor="start" textLength="119.9" lengthAdjust="spacingAndGlyphs">GIP</text>
<text x="992.0" y="1699.0" font-family='"Liberation Sans", Arial, sans-serif' font-size="76.32" font-weight="bold" text-anchor="start" textLength="389.1" lengthAdjust="spacingAndGlyphs">increments</text>
<text x="55.0" y="1715.6" font-family='"Liberation Sans", Arial, sans-serif' font-size="64.01" font-weight="bold" text-anchor="start" textLength="36.0" lengthAdjust="spacingAndGlyphs">b</text>
<text x="250.0" y="2774.9" font-family='"Liberation Sans", Arial, sans-serif' font-size="50.38" text-anchor="end" textLength="88.9" lengthAdjust="spacingAndGlyphs">−50</text>
<text x="237.8" y="2638.1" font-family='"Liberation Sans", Arial, sans-serif' font-size="50.38" text-anchor="end" textLength="28.6" lengthAdjust="spacingAndGlyphs">0</text>
<text x="237.8" y="2501.3" font-family='"Liberation Sans", Arial, sans-serif' font-size="50.38" text-anchor="end" textLength="57.6" lengthAdjust="spacingAndGlyphs">50</text>
<text x="237.8" y="2364.5" font-family='"Liberation Sans", Arial, sans-serif' font-size="50.38" text-anchor="end" textLength="89.6" lengthAdjust="spacingAndGlyphs">100</text>
<text x="237.8" y="2227.7" font-family='"Liberation Sans", Arial, sans-serif' font-size="50.38" text-anchor="end" textLength="89.6" lengthAdjust="spacingAndGlyphs">150</text>
<text x="238.8" y="2090.9" font-family='"Liberation Sans", Arial, sans-serif' font-size="50.38" text-anchor="end" textLength="89.5" lengthAdjust="spacingAndGlyphs">200</text>
<text x="238.8" y="1954.1" font-family='"Liberation Sans", Arial, sans-serif' font-size="50.38" text-anchor="end" textLength="89.5" lengthAdjust="spacingAndGlyphs">250</text>
<text x="238.8" y="1817.3" font-family='"Liberation Sans", Arial, sans-serif' font-size="50.38" text-anchor="end" textLength="89.5" lengthAdjust="spacingAndGlyphs">300</text>
<text x="290.3" y="2851.0" font-family='"Liberation Sans", Arial, sans-serif' font-size="54.23" text-anchor="middle" textLength="32.1" lengthAdjust="spacingAndGlyphs">0</text>
<text x="499.6" y="2851.0" font-family='"Liberation Sans", Arial, sans-serif' font-size="54.23" text-anchor="middle" textLength="60.6" lengthAdjust="spacingAndGlyphs">30</text>
<text x="708.9" y="2851.0" font-family='"Liberation Sans", Arial, sans-serif' font-size="54.23" text-anchor="middle" textLength="59.6" lengthAdjust="spacingAndGlyphs">60</text>
<text x="918.7" y="2851.0" font-family='"Liberation Sans", Arial, sans-serif' font-size="54.23" text-anchor="middle" textLength="60.6" lengthAdjust="spacingAndGlyphs">90</text>
<text x="1127.5" y="2851.0" font-family='"Liberation Sans", Arial, sans-serif' font-size="54.23" text-anchor="middle" textLength="90.2" lengthAdjust="spacingAndGlyphs">120</text>
<text x="1337.3" y="2851.0" font-family='"Liberation Sans", Arial, sans-serif' font-size="54.23" text-anchor="middle" textLength="90.2" lengthAdjust="spacingAndGlyphs">150</text>
<text x="1546.6" y="2851.0" font-family='"Liberation Sans", Arial, sans-serif' font-size="54.23" text-anchor="middle" textLength="89.2" lengthAdjust="spacingAndGlyphs">180</text>
<text x="1756.4" y="2851.0" font-family='"Liberation Sans", Arial, sans-serif' font-size="54.23" text-anchor="middle" textLength="88.2" lengthAdjust="spacingAndGlyphs">210</text>
<text x="1966.2" y="2851.0" font-family='"Liberation Sans", Arial, sans-serif' font-size="54.23" text-anchor="middle" textLength="88.2" lengthAdjust="spacingAndGlyphs">240</text>
<text x="2176.0" y="2851.0" font-family='"Liberation Sans", Arial, sans-serif' font-size="54.23" text-anchor="middle" textLength="88.2" lengthAdjust="spacingAndGlyphs">270</text>
<text x="1137.4" y="2934.6" font-family='"Liberation Sans", Arial, sans-serif' font-size="46.57" text-anchor="start" textLength="195.4" lengthAdjust="spacingAndGlyphs">minutes</text>
<text x="68.2" y="2379.6" font-family='"Liberation Serif", "Times New Roman", serif' font-size="87.56" text-anchor="start" textLength="57.0" lengthAdjust="spacingAndGlyphs" transform="rotate(-90 68.2 2379.6)">Δ</text>
<text x="66.9" y="2321.8" font-family='"Liberation Sans", Arial, sans-serif' font-size="72.26" font-weight="bold" text-anchor="start" textLength="199.1" lengthAdjust="spacingAndGlyphs" transform="rotate(-90 66.9 2321.8)">pg/mL</text>
<text x="437.4" y="3029.2" font-family='"Liberation Sans", Arial, sans-serif' font-size="59.92" font-weight="bold" text-anchor="start" textLength="122.0" lengthAdjust="spacingAndGlyphs">Cow</text>
<text x="767.0" y="3029.2" font-family='"Liberation Sans", Arial, sans-serif' font-size="61.31" font-weight="bold" text-anchor="start" textLength="131.9" lengthAdjust="spacingAndGlyphs">Hum</text>
<text x="1106.8" y="3027.9" font-family='"Liberation Sans", Arial, sans-serif' font-size="61.51" font-weight="bold" text-anchor="start" textLength="144.2" lengthAdjust="spacingAndGlyphs">Cow[</text>
<text transform="translate(1231.7 3033.1) scale(1.733 1)" font-family='"Noto Sans CJK JP", sans-serif' font-size="59.35" font-weight="500">↓</text>
<text x="1313.6" y="3027.9" font-family='"Liberation Sans", Arial, sans-serif' font-size="61.51" font-weight="bold" text-anchor="start" textLength="117.6" lengthAdjust="spacingAndGlyphs">Cas]</text>
<text x="1634.2" y="3028.9" font-family='"Liberation Sans", Arial, sans-serif' font-size="61.51" font-weight="bold" text-anchor="start" textLength="152.9" lengthAdjust="spacingAndGlyphs">Hum[</text>
<text transform="translate(1766.2 3033.0) scale(1.741 1)" font-family='"Noto Sans CJK JP", sans-serif' font-size="60.43" font-weight="500">↑</text>
<text x="1850.8" y="3028.9" font-family='"Liberation Sans", Arial, sans-serif' font-size="61.51" font-weight="bold" text-anchor="start" textLength="115.0" lengthAdjust="spacingAndGlyphs">Cas]</text>
<text x="337.0" y="1780.1" font-family='"DejaVu Sans", sans-serif' font-size="70.68" font-weight="bold" text-anchor="start" textLength="34.2" lengthAdjust="spacingAndGlyphs">*</text>
<text x="415.2" y="1864.1" font-family='"DejaVu Sans", sans-serif' font-size="71.77" font-weight="bold" text-anchor="start" textLength="35.3" lengthAdjust="spacingAndGlyphs">*</text>
<text x="1108.6" y="1839.6" font-family='"DejaVu Sans", sans-serif' font-size="63.09" font-weight="bold" text-anchor="start" textLength="35.1" lengthAdjust="spacingAndGlyphs">*</text>
<text x="355.8" y="2221.0" font-family='"Liberation Serif", "Times New Roman", serif' font-size="73.78" text-anchor="start" textLength="40.0" lengthAdjust="spacingAndGlyphs">§</text>
<text x="342.4" y="2417.2" font-family='"DejaVu Serif", serif' font-size="57.93" text-anchor="start" textLength="36.6" lengthAdjust="spacingAndGlyphs">#</text>
</svg></div></body></html>
